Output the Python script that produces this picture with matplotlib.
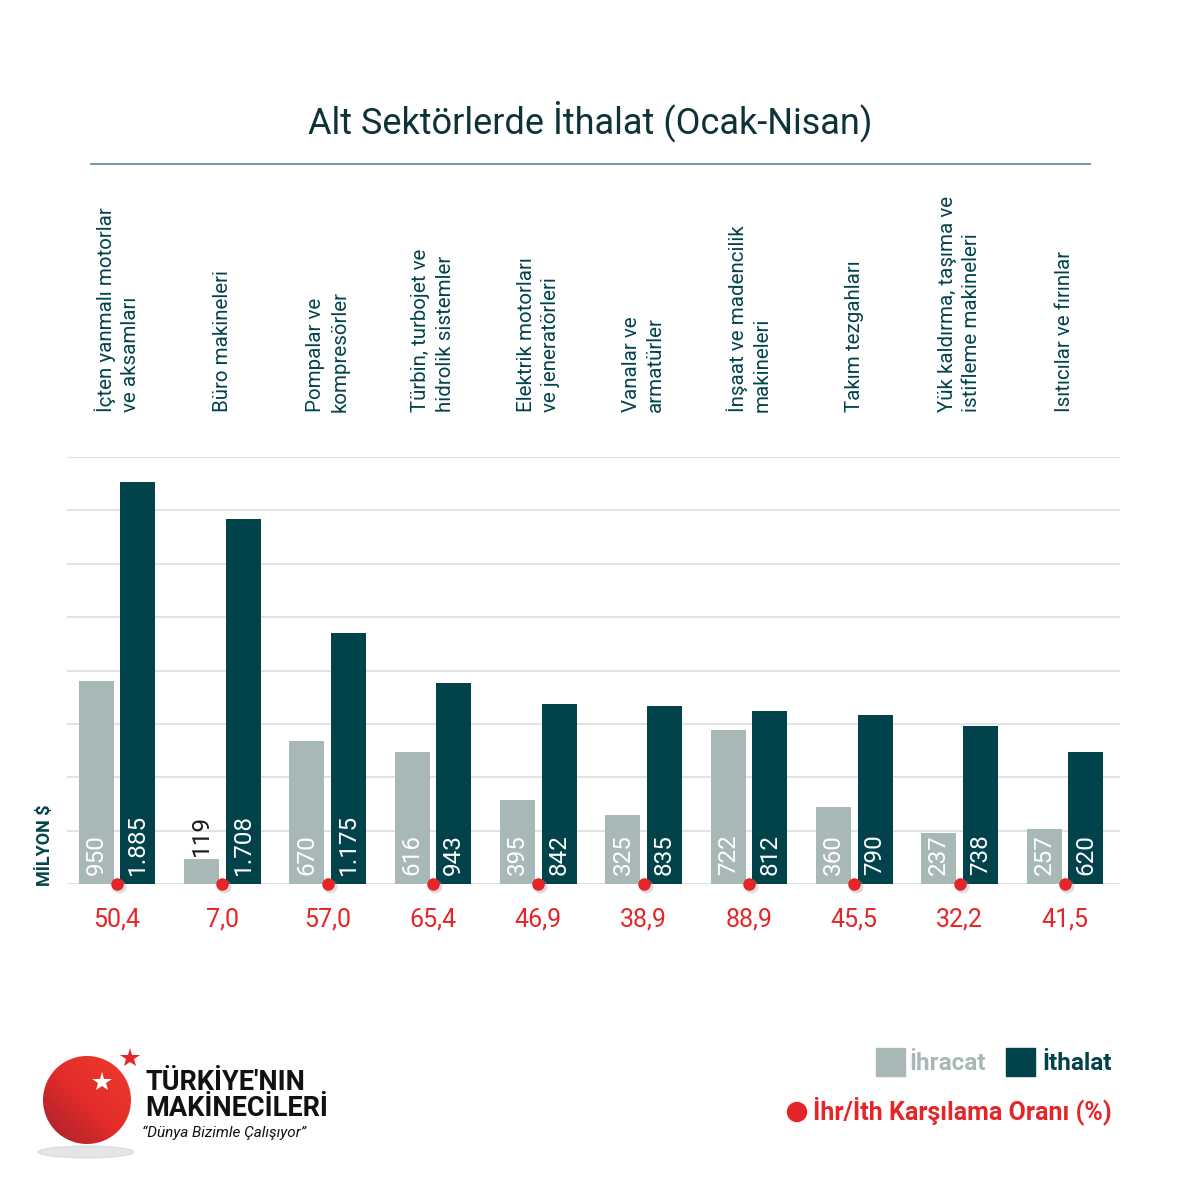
""" plot.py """

import numpy as np
import matplotlib
matplotlib.use("Agg")
import matplotlib.pyplot as plt
from matplotlib import font_manager
from matplotlib.patches import Circle, Ellipse, Rectangle
import matplotlib.transforms as mtransforms

# Data
categories = [
    "İçten yanmalı motorlar\nve aksamları",
    "Büro makineleri",
    "Pompalar ve\nkompresörler",
    "Türbin, turbojet ve\nhidrolik sistemler",
    "Elektrik motorları\nve jeneratörleri",
    "Vanalar ve\narmatürler",
    "İnşaat ve madencilik\nmakineleri",
    "Takım tezgahları",
    "Yük kaldırma, taşıma ve\nistifleme makineleri",
    "Isıtıcılar ve fırınlar",
]
ihracat = [950, 119, 670, 616, 395, 325, 722, 360, 237, 257]
ithalat = [1885, 1708, 1175, 943, 842, 835, 812, 790, 738, 620]
oran = [50.4, 7.0, 57.0, 65.4, 46.9, 38.9, 88.9, 45.5, 32.2, 41.5]
yticks = [0, 250, 500, 750, 1000, 1250, 1500, 1750, 2000]

GREY = "#a8b8b7"
DARK = "#02434b"
RED = "#e52528"
TITLE = "#0d3238"

_names = {f.name for f in font_manager.fontManager.ttflist}
def _pick(*fams):
    for f in fams:
        if f in _names:
            return f
    return "DejaVu Sans"

BASE = _pick("Roboto", "Open Sans")
plt.rcParams['font.family'] = [BASE, 'DejaVu Sans']


def tr_int(v):
    return f"{v:,}".replace(",", ".")


def tr_dec(v):
    return f"{v:.1f}".replace(".", ",")


W = H = 1181
fig = plt.figure(figsize=(W / 100, H / 100), dpi=100)
fig.patch.set_facecolor("white")

# main chart axes, baseline at 884 px, 2000 at 457 px
ax = fig.add_axes([67 / W, (H - 884) / H, 1053 / W, 427 / H])
x = np.arange(len(categories))
ax.set_xlim(-0.475, 9.523)
ax.set_ylim(0, 2000)
for s in ax.spines.values():
    s.set_visible(False)
ax.set_xticks([])
ax.set_yticks(yticks)
ax.set_yticklabels([])
ax.tick_params(length=0)
ax.yaxis.grid(True, color="#e2e2e2", linewidth=1.4)
ax.set_axisbelow(True)

off, bw = 0.197, 0.332
ax.bar(x - off, ihracat, width=bw, color=GREY, zorder=2)
ax.bar(x + off, ithalat, width=bw, color=DARK, zorder=2)

# value labels
for i in range(len(x)):
    if ihracat[i] < 200:
        ax.text(x[i] - off, ihracat[i] + 12, tr_int(ihracat[i]), rotation=90,
                ha='center', va='bottom', color="#1a1a1a", fontsize=17.5,
                zorder=4)
    else:
        ax.text(x[i] - off, 40, tr_int(ihracat[i]), rotation=90, ha='center',
                va='bottom', color="white", fontsize=17.5, zorder=4)
    ax.text(x[i] + off, 40, tr_int(ithalat[i]), rotation=90, ha='center',
            va='bottom', color="white", fontsize=17.5, zorder=4)

# ratio dots with shadow
shadow = mtransforms.offset_copy(ax.transData, fig=fig, x=1.5, y=-1.5, units='points')
ax.plot(x, np.zeros(len(x)), 'o', color="#999999", alpha=0.35, markersize=10,
        transform=shadow, clip_on=False, zorder=5, markeredgewidth=0)
ax.plot(x, np.zeros(len(x)), 'o', color=RED, markersize=9, clip_on=False,
        zorder=6, markeredgewidth=0)

# ratio labels
blend = mtransforms.blended_transform_factory(ax.transData, fig.transFigure)
for i in range(len(x)):
    ax.text(x[i], (H - 919) / H, tr_dec(oran[i]), transform=blend, ha='center',
            va='center', color=RED, fontsize=18, clip_on=False)

# category labels
for i, lab in enumerate(categories):
    ax.text(x[i], (H - 412) / H, lab, transform=blend, rotation=90, ha='center',
            va='bottom', multialignment='left', color=DARK, fontsize=14.8,
            linespacing=1.35, clip_on=False)

fig.text(45 / W, (H - 845) / H, "MİLYON $", rotation=90, ha='center', va='center',
         color=DARK, fontsize=13, fontweight='bold')

# title
fig.text(590 / W, (H - 121) / H, "Alt Sektörlerde İthalat (Ocak-Nisan)",
         ha='center', va='center', color=TITLE, fontsize=26)

# overlay in pixel coordinates for decorations
ov = fig.add_axes([0, 0, 1, 1], zorder=-1)
ov.set_xlim(0, W)
ov.set_ylim(H, 0)
ov.axis('off')
ov.plot([91, 1090], [164, 164], color="#6f9ba1", linewidth=1.4)

# legend
ov.add_patch(Rectangle((876, 1048), 29, 28, color=GREY))
ov.text(909, 1063, "İhracat", ha='left', va='center', color=GREY, fontsize=17.5,
        fontweight='bold')
ov.add_patch(Rectangle((1006, 1048), 29, 28, color=DARK))
ov.text(1042, 1063, "İthalat", ha='left', va='center', color=DARK, fontsize=17.5,
        fontweight='bold')
ov.add_patch(Circle((797, 1112), 9.5, color=RED))
ov.text(813, 1111, "İhr/İth Karşılama Oranı (%)", ha='left', va='center',
        color=RED, fontsize=18, fontweight='bold')

# logo
ov.add_patch(Ellipse((86, 1152), 96, 12, color="#d5d5d5", alpha=0.6))
gx, gy = np.meshgrid(np.linspace(0, 1, 100), np.linspace(0, 1, 100))
grad = np.clip((gx + (1 - gy)) / 2, 0, 1)
cmap = matplotlib.colors.LinearSegmentedColormap.from_list(
    "logo", ["#a3202c", "#e42d2a", "#ee3a2c"])
circ = Circle((87, 1100), 44, transform=ov.transData)
im = ov.imshow(grad, cmap=cmap, extent=(43, 131, 1144, 1056), origin='upper',
               interpolation='bilinear')
im.set_clip_path(circ)
ov.set_xlim(0, W)
ov.set_ylim(H, 0)
ov.plot([102], [1082], marker='*', color='white', markersize=15,
        markeredgewidth=0)
ov.plot([130], [1058], marker='*', color=RED, markersize=15, markeredgewidth=0)
ov.text(145, 1082, "TÜRKİYE'NIN", ha='left', va='center', color="#111111",
        fontsize=19.5, fontweight='bold')
ov.text(145, 1108, "MAKİNECİLERİ", ha='left', va='center', color="#111111",
        fontsize=19.5, fontweight='bold')
ov.text(142, 1133, "“Dünya Bizimle Çalışıyor”", ha='left', va='center',
        color="#111111", fontsize=11, style='italic')

fig.savefig("out.png", dpi=100)
